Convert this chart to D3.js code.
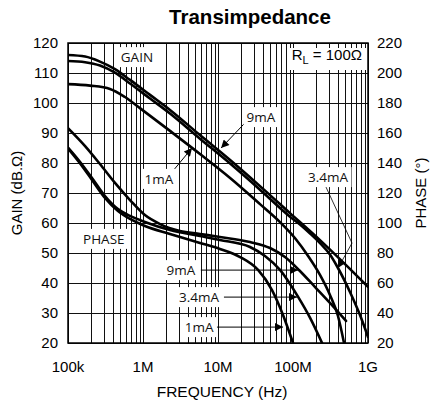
<!DOCTYPE html>
<html><head><meta charset="utf-8">
<script src="https://cdn.jsdelivr.net/npm/d3@7"></script>
<style>body{margin:0;background:#fff} svg{display:block}</style>
</head><body><svg id="c" width="440" height="404"></svg>
<script>
// ---- data ----
const freqTicks = [1e5, 1e6, 1e7, 1e8, 1e9];
const freqTickLabels = ["100k", "1M", "10M", "100M", "1G"];
const gainTicks = [20, 30, 40, 50, 60, 70, 80, 90, 100, 110, 120];
const phaseTicks = [20, 40, 60, 80, 100, 120, 140, 160, 180, 200, 220];

const gain9mAFreq = [1e5,1.69e5,2.67e5,4.23e5,6.71e5,1.24e6,2.29e6,5.75e6,1.45e7,3.63e7,9.12e7,2.29e8,4.94e8,1e9];
const gain9mA     = [116.0,115.5,113.8,111.3,107.7,102.7,97.7,89.3,81.0,72.3,63.3,54.3,46.3,38.7];

const gain3p4mAFreq = [1e5,1.69e5,2.67e5,4.23e5,6.71e5,1.24e6,2.29e6,5.75e6,1.45e7,3.63e7,9.12e7,1.24e8,1.69e8,2.29e8,3.11e8,3.98e8,5.75e8,7.82e8,1e9];
const gain3p4mA     = [114.0,113.6,112.5,110.1,106.5,101.5,96.5,88.1,79.8,71.1,62.1,59.5,56.5,53.3,49.5,45.0,37.0,29.3,22.0];

const gain1mAFreq = [1e5,1.97e5,3.63e5,5.75e5,9.1e5,2.29e6,5.75e6,1.45e7,3.63e7,6.71e7,1.06e8,1.59e8,2.29e8,3.11e8,3.98e8,4.79e8];
const gain1mA     = [106.3,105.8,104.7,102.0,98.3,90.7,83.0,75.0,66.3,60.3,55.0,49.0,42.7,36.0,29.0,20.0];

const phase9mAFreq = [1e5,1.69e5,2.67e5,4.23e5,6.71e5,1.06e6,1.69e6,3.11e6,5.75e6,1.06e7,2.67e7,4.94e7,7.82e7,1.20e8,1.97e8,3.11e8,5.09e8];
const phase9mA     = [163.3,151.3,139.3,126.7,115.3,105.3,99.3,94.7,92.7,90.7,87.3,83.3,77.3,68.7,57.3,46.7,34.7];

const phase3p4mAFreq = [1e5,1.45e5,2.09e5,3.11e5,4.64e5,6.71e5,1.06e6,2.29e6,5.75e6,1.06e7,2.67e7,4.23e7,6.71e7,1.17e8,1.69e8,2.44e8];
const phase3p4mA     = [150.3,140.7,130.0,118.0,109.3,104.7,100.7,95.3,91.3,88.7,84.0,78.0,68.7,50.7,36.7,20.0];

const phase1mAFreq = [1e5,1.45e5,2.09e5,3.11e5,4.64e5,6.71e5,1.06e6,2.29e6,5.75e6,1.06e7,1.97e7,3.42e7,5.25e7,7.36e7,1.0e8];
const phase1mA     = [149.7,139.7,128.7,116.7,108.0,102.7,98.0,92.7,86.7,82.7,77.3,68.7,55.3,38.7,20.0];

// annotations in data units (frequency, gain-axis value)
const labelTexts  = ["GAIN", "1mA", "9mA", "3.4mA", "PHASE", "9mA", "3.4mA", "1mA"];
const labelFreq   = [8.3e5, 1.63e6, 3.74e7, 2.93e8, 3.0e5, 3.2e6, 5.6e6, 5.6e6];
const labelGain   = [115.3, 74.7, 95.3, 75.3, 54.7, 44.3, 35.3, 25.3];
const arrowPaths = [
  [[2.44e6, 77.0], [4.5e6, 85.0]],
  [[2.36e7, 93.7], [1.1e7, 85.0]],
  [[2.67e8, 72.7], [6.12e8, 53.3], [3.98e8, 45.0]],
  [[5.9e6, 44.3], [1.17e8, 44.3]],
  [[1.2e7, 35.3], [1.13e8, 35.3]],
  [[9.6e6, 25.3], [7.36e7, 25.3]]
];
const arrowWidths = [1, 1, 0.8, 1, 1, 1];

// ---- chart ----
const svg = d3.select("#c");
const L = 68, R = 368, T = 43, B = 343;
const x = d3.scaleLog().domain([1e5, 1e9]).range([L, R]);
const yG = d3.scaleLinear().domain([20, 120]).range([B, T]);
const yP = d3.scaleLinear().domain([20, 220]).range([B, T]);

svg.append("rect").attr("width", 440).attr("height", 404).attr("fill", "#fff");

svg.append("defs").append("clipPath").attr("id", "clip")
  .append("rect").attr("x", L).attr("y", T).attr("width", R - L).attr("height", B - T);
svg.select("defs").append("marker").attr("id", "arr")
  .attr("viewBox", "0 0 10 10").attr("refX", 10).attr("refY", 5)
  .attr("markerUnits", "userSpaceOnUse").attr("markerWidth", 10).attr("markerHeight", 8)
  .attr("orient", "auto")
  .append("path").attr("d", "M0,0 L10,5 L0,10 z").attr("fill", "#000");

// grid
const grid = svg.append("g").attr("shape-rendering", "crispEdges");
grid.selectAll("line.v").data(x.ticks()).join("line").attr("class", "v")
  .attr("x1", d => Math.round(x(d)) + 0.5).attr("x2", d => Math.round(x(d)) + 0.5)
  .attr("y1", T).attr("y2", B).attr("stroke", "#111").attr("stroke-width", 1);
grid.selectAll("line.h").data(gainTicks).join("line").attr("class", "h")
  .attr("y1", d => Math.round(yG(d)) + 0.5).attr("y2", d => Math.round(yG(d)) + 0.5)
  .attr("x1", L).attr("x2", R).attr("stroke", "#111").attr("stroke-width", 1);

// curves
const line = d3.line().x(d => x(d[0])).y(d => d[1]).curve(d3.curveMonotoneX);
const series = [
  [gain1mAFreq, gain1mA, yG],
  [gain3p4mAFreq, gain3p4mA, yG],
  [gain9mAFreq, gain9mA, yG],
  [phase1mAFreq, phase1mA, yP],
  [phase3p4mAFreq, phase3p4mA, yP],
  [phase9mAFreq, phase9mA, yP]
];
const cg = svg.append("g").attr("clip-path", "url(#clip)");
series.forEach(([f, v, ys]) => {
  cg.append("path").datum(f.map((ff, i) => [ff, ys(v[i])]))
    .attr("d", line).attr("fill", "none").attr("stroke", "#000")
    .attr("stroke-width", 2.6).attr("stroke-linejoin", "round").attr("stroke-linecap", "round");
});

// annotation arrows
const aline = d3.line().x(d => x(d[0])).y(d => yG(d[1]));
arrowPaths.forEach((p, i) => {
  svg.append("path").attr("d", aline(p)).attr("fill", "none").attr("stroke", "#000")
    .attr("stroke-width", arrowWidths[i]).attr("marker-end", "url(#arr)");
});

// annotation labels with white boxes
labelTexts.forEach((t, i) => {
  const g = svg.append("g");
  const tx = g.append("text").attr("x", x(labelFreq[i])).attr("y", yG(labelGain[i]))
    .attr("text-anchor", "middle").attr("dominant-baseline", "central")
    .attr("font-family", "'Open Sans', sans-serif").attr("font-size", 13.5).attr("fill", "#111").text(t);
  const bb = tx.node().getBBox();
  g.insert("rect", "text").attr("x", bb.x - 3).attr("y", bb.y - 1)
    .attr("width", bb.width + 6).attr("height", bb.height + 2).attr("fill", "#fff");
});

// R_L box
const rl = svg.append("g");
const rlt = rl.append("text").attr("x", R - 6).attr("y", yG(114.2)).attr("text-anchor", "end")
  .attr("font-family", "'Liberation Sans', Arial, sans-serif").attr("font-size", 15).attr("fill", "#000");
rlt.append("tspan").text("R");
rlt.append("tspan").attr("font-size", 11).attr("dy", 4).text("L");
rlt.append("tspan").attr("dy", -4).text(" = 100\u03A9");
const rb = rlt.node().getBBox();
rl.insert("rect", "text").attr("x", rb.x - 4).attr("y", T + 5).attr("width", rb.width + 8)
  .attr("height", 22).attr("fill", "#fff");

// border
svg.append("rect").attr("x", L).attr("y", T).attr("width", R - L).attr("height", B - T)
  .attr("fill", "none").attr("stroke", "#000").attr("stroke-width", 1.5);

// tick labels
const tf = "'Liberation Sans', Arial, sans-serif";
svg.selectAll("text.yl").data(gainTicks).join("text").attr("class", "yl")
  .attr("x", L - 10).attr("y", d => yG(d)).attr("dy", "0.36em").attr("text-anchor", "end")
  .attr("font-family", tf).attr("font-size", 15).attr("fill", "#000").text(d => d);
svg.selectAll("text.yr").data(phaseTicks).join("text").attr("class", "yr")
  .attr("x", R + 9).attr("y", d => yP(d)).attr("dy", "0.36em").attr("text-anchor", "start")
  .attr("font-family", tf).attr("font-size", 15).attr("fill", "#000").text(d => d);
svg.selectAll("text.xl").data(freqTicks).join("text").attr("class", "xl")
  .attr("x", d => x(d)).attr("y", B + 29).attr("text-anchor", "middle")
  .attr("font-family", tf).attr("font-size", 15).attr("fill", "#000").text((d, i) => freqTickLabels[i]);

// titles
svg.append("text").attr("x", 250).attr("y", 24).attr("text-anchor", "middle")
  .attr("font-family", tf).attr("font-weight", "bold").attr("font-size", 20.5).attr("fill", "#000")
  .text("Transimpedance");
svg.append("text").attr("x", (L + R) / 2 + 4).attr("y", 397).attr("text-anchor", "middle")
  .attr("font-family", tf).attr("font-size", 15.5).attr("fill", "#000").text("FREQUENCY (Hz)");
svg.append("text").attr("transform", `translate(22,${(T + B) / 2}) rotate(-90)`).attr("text-anchor", "middle")
  .attr("font-family", tf).attr("font-size", 15).attr("fill", "#000").text("GAIN (dB.\u03A9)");
svg.append("text").attr("transform", `translate(426,${(T + B) / 2}) rotate(-90)`).attr("text-anchor", "middle")
  .attr("font-family", tf).attr("font-size", 15).attr("fill", "#000").text("PHASE (\u00B0)");
</script>
</body></html>
